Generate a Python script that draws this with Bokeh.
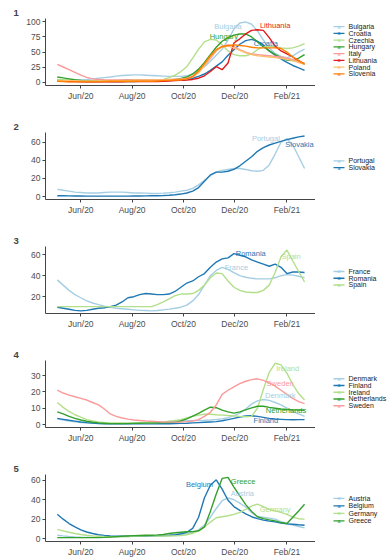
import datetime as dt
from bokeh.plotting import figure
from bokeh.layouts import column, row
from bokeh.models import ColumnDataSource, Range1d, FixedTicker
from bokeh.embed import file_html
from bokeh.resources import INLINE
from bokeh.core.properties import value

# ---------------- data (weekly, 2020-05-04 .. 2021-02-22) ----------------
start = dt.date(2020, 5, 4)
dates = [start + dt.timedelta(days=7 * i) for i in range(43)]

# panel 1
bulgaria = [3,3,3.5,4,4.5,5,6,7,8,9,10.5,11.5,12,12.5,12.5,12,11.5,11,10.5,10,10,10,11,14,19,26,35,45,55,70,88,98,100,96,85,70,57,48,43,41,44,50,55]
croatia = [4,3.5,3,2.5,2,1.5,1.5,1.5,2,2.5,3,3.5,4,4,4,4,3.8,3.5,3.5,3.5,3.8,4,5,7,10,14,20,27,34,45,54,63,69,71,68,62,52,45,39,33,28,24,20]
czechia = [5,4.5,4,3.5,3,3,3,3,3,3,3,3,3,3,3,3,3.5,4,5,8,12,18,26,40,55,67,71,70,62,52,46,44,44,47,54,59,60,59,57,56,57,60,64]
hungary = [9,7.5,6,4.5,3.5,2.8,2.3,2,1.8,1.5,1.5,1.5,1.5,1.6,1.8,2,2.3,2.6,3,4,5,6.5,9,14,22,33,46,58,68,74,78,80,80,75,67,59,52,46,41,37,36,40,46]
italy = [30,25.5,21,16.5,12,8.5,6,5,4.5,4.2,4,4,4,4,4,4,4,4.2,4.5,5,5.5,6,7,10,17,28,40,52,60,62,59,54,50,47,46,45,44,43,42,40,38,35,32]
lithuania = [2,2,1.5,1.5,1,1,1,1,1,1,1,1.2,1.5,1.5,1.5,1.5,1.5,1.5,2,2.5,3,3.5,4,5,7,11,18,26,21,32,65,72,80,86,87,86,74,60,52,47,42,36,30]
poland = [3,3,3,3,2.5,2.5,2.5,2.5,2.5,2.5,3,3,3.5,4,4,4,4,4,4,4.5,5,5,6,9,16,28,42,53,59,60,57,53,49,46,44,43,42,41,40,38,36,33,30]
slovenia = [2,1.5,1,1,1,1,1,1,1.5,2,2,2,2,2,2,2,2,2.5,3,3.5,4,4.5,6,10,19,31,44,54,59,61,62,61,60,58,57,57,57,57,56,50,42,36,30]
# panel 2
portugal = [8,7,6,5,4.5,4,4,4,4.5,5,5,5,4.5,4,4,3.8,3.5,3.5,3.8,4.2,5,6,7,9,13,18,23,27,29,30,31,31,30,28.5,28,29,35,47,60,64,57,44,31]
slovakia = [1,1,0.8,0.7,0.6,0.5,0.5,0.5,0.5,0.5,0.5,0.5,0.5,0.6,0.7,0.8,0.9,1,1.2,1.5,2,2.8,4,6,10,17,24,27,27,28,30,34,39,44,50,54,57,59,61,63,64.5,66,67]
# panel 3
france = [36,31,26,22,19,16,14,12.5,11,10,9,8.5,8,7.5,7,6.8,6.5,6.8,7.5,8.2,9,10,12,16,22,31,40,45,48,46,43,40,38.5,37.5,37,37,37,38,40,41,40.5,39.5,38]
romania = [10,9,8,7,6.5,7,8,9,9.5,10.5,12,15,19,20,22,23,22.5,22,22,22.5,25,29,33,35,39,42,48,53,56,57,61,59.5,58,55,53,51,49,51,48,42,43.5,43.5,43]
spain = [10.5,10.5,10.5,10.5,10.5,10.5,10.5,10.5,10.5,10.5,10.5,10.5,10.5,10.5,10.5,10.5,10.5,12.5,15,18,21,22.5,22.5,23,26,31,38,42.5,42,35,29,26,24.5,24,24,26,31,43,58,64.5,54,44,34]
# panel 4
denmark = [3.5,2.8,2.2,1.7,1.2,1,0.8,0.7,0.6,0.6,0.6,0.6,0.7,0.8,0.9,1,1.1,1.2,1.4,1.6,1.9,2.1,2.3,2.4,2.5,2.6,2.8,3.1,3.5,4.2,5.3,7,9.5,12.5,14.5,15.3,14.8,13.5,12,10,8,6.5,5]
finland = [3.8,3.2,2.6,2.1,1.6,1.2,0.9,0.6,0.5,0.4,0.4,0.4,0.4,0.4,0.4,0.4,0.4,0.5,0.5,0.5,0.6,0.7,0.8,1,1.2,1.4,1.6,1.8,2.3,3,3.8,4.6,5.2,5.4,5,4.4,3.8,3.4,3.2,3,2.9,3,3]
ireland = [13.5,10.5,8,6,4.5,3,2.2,1.6,1.2,1,1,1,1,1,1,1,1.1,1.3,1.5,2,2.5,3,4,5,5.8,6.3,6.3,6,5.8,5.5,5.3,5,4.8,5,10,21.5,32,37.5,36.5,31.5,24.5,19,15]
netherlands = [7.8,6.5,5,3.8,2.8,2,1.4,1,0.8,0.6,0.6,0.6,0.6,0.7,0.8,0.9,0.9,1,1.1,1.3,1.5,2.2,3.5,5.2,6.8,8.8,10.6,10.3,8.8,7.8,7,7.8,9,10.2,11.2,11.2,10.5,10,9.5,9.2,9,8.9,8.8]
sweden = [21,19.3,18,17,16,15,13.5,12,9.5,6.5,5,4,3.3,2.8,2.5,2.2,2,1.8,1.6,1.5,1.5,1.6,1.8,2.2,3,5,7.5,12,18.5,21,23,25,26.5,27.5,28,27,25.5,23.5,21,18.5,16,14,12.8]
# panel 5
austria = [3.5,2.8,2.2,1.8,1.5,1.3,1.2,1.2,1.3,1.5,1.7,2,2.2,2.4,2.5,2.6,2.6,2.6,2.8,3.2,3.6,4.2,5,6.5,9,14,22,31,39,42,40,36.5,32.5,27,22.5,22,21,20,17.5,15.5,14,12.5,11]
belgium = [25,20,15.5,12,9,6.8,5.2,4,3.3,2.8,2.5,2.4,2.4,2.5,2.5,2.6,2.8,3,3.2,3.5,4,5,6.5,10.5,22,42,55,60.5,51,39.5,33,29,25.5,22.5,20.5,19,18,17.2,16,15.2,14.8,14.2,13.7]
germany = [9.5,8,6.5,5.2,4.2,3.4,2.8,2.4,2.1,1.9,1.9,2,2.2,2.5,2.7,2.8,2.8,2.7,2.6,2.6,2.8,3.2,4,5.5,8,12,17,21.5,22.5,23.5,25,27,30,33.5,35.5,33,30,28.5,27,25,22,20.5,20]
greece = [1,1,1,1,1,1,1,1,1.2,1.6,2,2.4,2.7,3,3.2,3.4,3.5,3.8,4.2,5.2,6,6.5,7,7.2,8,12,28,46,62,63,53,44,35,28,22.5,20.5,19.3,18.2,16.5,15.5,22,28.5,35.3]

# x ticks
tick_dates = [dt.date(2020, 6, 1), dt.date(2020, 8, 1), dt.date(2020, 10, 1),
              dt.date(2020, 12, 1), dt.date(2021, 2, 1)]
tick_labels = ["Jun/20", "Aug/20", "Oct/20", "Dec/20", "Feb/21"]

# direct labels: (name, date, value)
labels1 = [("Bulgaria", dt.date(2020, 11, 23), 92), ("Lithuania", dt.date(2021, 1, 18), 94),
           ("Hungary", dt.date(2020, 11, 18), 75), ("Croatia", dt.date(2021, 1, 7), 64)]
labels2 = [("Portugal", dt.date(2021, 1, 7), 64), ("Slovakia", dt.date(2021, 2, 16), 57)]
labels3 = [("Romania", dt.date(2020, 12, 20), 61.5), ("France", dt.date(2020, 12, 3), 47.4),
           ("Spain", dt.date(2021, 2, 6), 58.4)]
labels4 = [("Ireland", dt.date(2021, 2, 2), 34.4), ("Sweden", dt.date(2021, 1, 24), 25.2),
           ("Denmark", dt.date(2021, 1, 24), 17.8), ("Netherlands", dt.date(2021, 1, 31), 8.8),
           ("Finland", dt.date(2021, 1, 7), 2.4)]
labels5 = [("Belgium", dt.date(2020, 10, 20), 56), ("Greece", dt.date(2020, 12, 11), 58.3),
           ("Austria", dt.date(2020, 12, 10), 46.2), ("Germany", dt.date(2021, 1, 18), 30.2)]

PAIRED = ["#A6CEE3", "#1F78B4", "#B2DF8A", "#33A02C", "#FB9A99", "#E31A1C", "#FDBF6F", "#FF7F00"]

panels = [
    ("1", ["Bulgaria", "Croatia", "Czechia", "Hungary", "Italy", "Lithuania", "Poland", "Slovenia"],
     [bulgaria, croatia, czechia, hungary, italy, lithuania, poland, slovenia],
     (-5, 105.5), [0, 25, 50, 75, 100], labels1),
    ("2", ["Portugal", "Slovakia"], [portugal, slovakia], (-3.2, 70.8), [0, 20, 40, 60], labels2),
    ("3", ["France", "Romania", "Spain"], [france, romania, spain], (4.0, 67.8), [20, 40, 60], labels3),
    ("4", ["Denmark", "Finland", "Ireland", "Netherlands", "Sweden"],
     [denmark, finland, ireland, netherlands, sweden], (-1.8, 39.2), [0, 10, 20, 30], labels4),
    ("5", ["Austria", "Belgium", "Germany", "Greece"], [austria, belgium, germany, greece],
     (-3, 66), [0, 20, 40, 60], labels5),
]

FONT = "Liberation Sans"
REF = dt.date(2020, 6, 1)


def day(d):
    return (d - REF).days


XS = [day(d) for d in dates]
X_START = day(dt.date(2020, 4, 20))
X_END = day(dt.date(2021, 3, 7))

MAIN_W = 315          # plot part (frame 45..315)
LEG_W = 74            # legend column
BORDER_L, BORDER_T = 45, 18
FRAME_H = 67
ITEM_H = 11.5
HEIGHTS = [114, 114, 114, 114, 103]

rows = []
for k, (title, names, series, ylim, yticks, labels) in enumerate(panels):
    h = HEIGHTS[k]
    p = figure(width=MAIN_W, height=h, output_backend="svg", toolbar_location=None,
               min_border_left=BORDER_L, min_border_right=0, min_border_top=BORDER_T,
               min_border_bottom=h - BORDER_T - FRAME_H,
               x_range=Range1d(X_START, X_END), y_range=Range1d(*ylim))
    p.title.text = title
    p.title.text_font = FONT
    p.title.text_font_size = "9.5px"
    p.title.text_font_style = "bold"
    p.title.align = "left"
    p.title.offset = -32
    p.title.standoff = 5
    p.outline_line_color = None
    p.xgrid.visible = False
    p.ygrid.visible = False

    colors = PAIRED[:len(names)]
    color_of = dict(zip(names, colors))
    for name, vals, col in zip(names, series, colors):
        assert len(vals) == len(XS), name
        src = ColumnDataSource(dict(x=XS, y=vals))
        p.line("x", "y", source=src, line_color=col, line_width=1.4)

    lsrc = ColumnDataSource(dict(x=[day(l[1]) for l in labels], y=[l[2] for l in labels],
                                 t=[l[0] for l in labels],
                                 c=[color_of[l[0]] for l in labels]))
    p.text("x", "y", text="t", source=lsrc, text_color="c", text_font=value(FONT),
           text_font_size="7.5px", text_align="center", text_baseline="middle")

    for ax in (p.xaxis[0], p.yaxis[0]):
        ax.axis_line_color = "#444444"
        ax.axis_line_width = 1
        ax.major_tick_line_color = "#444444"
        ax.major_tick_out = 3
        ax.major_tick_in = 0
        ax.minor_tick_out = 0
        ax.minor_tick_in = 0
        ax.major_label_text_font = FONT
        ax.major_label_text_font_size = "8.5px"
        ax.major_label_text_color = "#4D4D4D"
        ax.major_label_standoff = 2
    tick_pos = [day(d) for d in tick_dates]
    p.xaxis[0].ticker = FixedTicker(ticks=tick_pos)
    p.xaxis[0].major_label_overrides = {t: lab for t, lab in zip(tick_pos, tick_labels)}
    p.yaxis[0].ticker = FixedTicker(ticks=yticks)

    # legend column (pixel coordinates, y downward)
    lg = figure(width=LEG_W, height=h, output_backend="svg", toolbar_location=None,
                min_border=0, x_axis_location=None, y_axis_location=None,
                x_range=Range1d(0, LEG_W), y_range=Range1d(h, 0))
    lg.outline_line_color = None
    lg.xgrid.visible = False
    lg.ygrid.visible = False
    n = len(names)
    center = BORDER_T + FRAME_H / 2.0 + 2.5
    ys = [center + (i - (n - 1) / 2.0) * ITEM_H for i in range(n)]
    lg.segment(x0=[18] * n, y0=ys, x1=[29] * n, y1=ys, line_color=colors, line_width=1.4)
    lg.text(x=[23.5] * n, y=ys, text=["a"] * n, text_color=colors, text_font=value(FONT),
            text_font_size="5.5px", text_align="center", text_baseline="middle")
    lg.text(x=[33] * n, y=ys, text=names, text_color="#1a1a1a", text_font=value(FONT),
            text_font_size="7px", text_align="left", text_baseline="middle")

    rows.append(row(p, lg, spacing=0))

layout = column(*rows, spacing=0)
open("out.html", "w").write(file_html(layout, INLINE))
